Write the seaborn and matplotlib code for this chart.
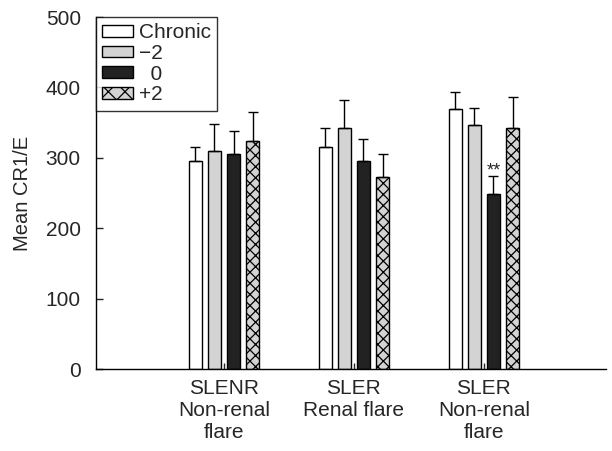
import numpy as np
import pandas as pd
import matplotlib
matplotlib.use("Agg")
import matplotlib.pyplot as plt
import seaborn as sns
from matplotlib.patches import Patch

# data
groups = ["SLENR\nNon-renal\nflare", "SLER\nRenal flare", "SLER\nNon-renal\nflare"]
conditions = ["Chronic", "\u22122", "0", "+2"]
means = {
    "Chronic": [296, 316, 369],
    "\u22122": [310, 343, 346],
    "0": [306, 296, 249],
    "+2": [324, 273, 343],
}
err_tops = {
    "Chronic": [316, 342, 394],
    "\u22122": [348, 382, 371],
    "0": [338, 327, 274],
    "+2": [365, 305, 386],
}
colors = {"Chronic": "white", "\u22122": "#d3d3d3", "0": "#222222", "+2": "#d3d3d3"}
hatches = {"Chronic": "", "\u22122": "", "0": "", "+2": "xxx"}

rows = []
for c in conditions:
    for i, g in enumerate(groups):
        rows.append({"group": g, "cond": c, "mean": means[c][i], "top": err_tops[c][i]})
df = pd.DataFrame(rows)

sns.set_style("ticks")
plt.rcParams["font.family"] = ["Liberation Sans", "DejaVu Sans"]
plt.rcParams["hatch.linewidth"] = 0.9

fig = plt.figure(figsize=(6.12, 4.51), dpi=100)
ax = fig.add_axes([0.157, 0.1818, 0.833, 0.7805])

sns.barplot(data=df, x="group", y="mean", hue="cond", hue_order=conditions,
            order=groups, palette=colors, width=0.59, gap=0.32,
            edgecolor="black", linewidth=1.0, errorbar=None, legend=False, ax=ax)

# hatching + error bars
for k, c in enumerate(conditions):
    bars = ax.containers[k]
    for i, p in enumerate(bars.patches):
        p.set_hatch(hatches[c])
        p.set_edgecolor("black")
        xc = p.get_x() + p.get_width() / 2
        m = means[c][i]
        ax.errorbar(xc, m, yerr=[[0], [err_tops[c][i] - m]], fmt="none",
                    ecolor="black", elinewidth=1.0, capsize=3.5, capthick=1.0)

# significance marker on the 0 bar, third group
p = ax.containers[2].patches[2]
ax.text(p.get_x() + p.get_width() / 2, err_tops["0"][2] - 5, "**",
        ha="center", va="bottom", fontsize=13)

ax.set_xlim(-0.985, 2.94)
ax.set_ylim(0, 500)
ax.set_yticks([0, 100, 200, 300, 400, 500])
ax.set_xlabel("")
ax.set_ylabel("Mean CR1/E", fontsize=14.5, labelpad=10)
ax.tick_params(axis="y", direction="in", length=5, labelsize=15, width=1, pad=11)
ax.tick_params(axis="x", direction="in", length=4, labelsize=15, width=1, pad=7)
for t in ax.get_xticklabels():
    t.set_linespacing(1.22)
sns.despine(ax=ax)
for s in ["left", "bottom"]:
    ax.spines[s].set_linewidth(1.0)
    ax.spines[s].set_color("black")

handles = [Patch(facecolor=colors[c], edgecolor="black", hatch=hatches[c].replace("xxx", "xx")) for c in conditions]
labels = ["Chronic", "\u22122", "  0", "+2"]
leg = ax.legend(handles, labels, loc="upper left", bbox_to_anchor=(0, 1.0),
                fontsize=15, frameon=True, fancybox=False, handlelength=1.45,
                handleheight=0.5, handletextpad=0.3, labelspacing=0.08,
                borderpad=0.3, borderaxespad=0)
leg.get_frame().set_edgecolor("black")
leg.get_frame().set_linewidth(1.0)

fig.savefig("out.png", dpi=100)
